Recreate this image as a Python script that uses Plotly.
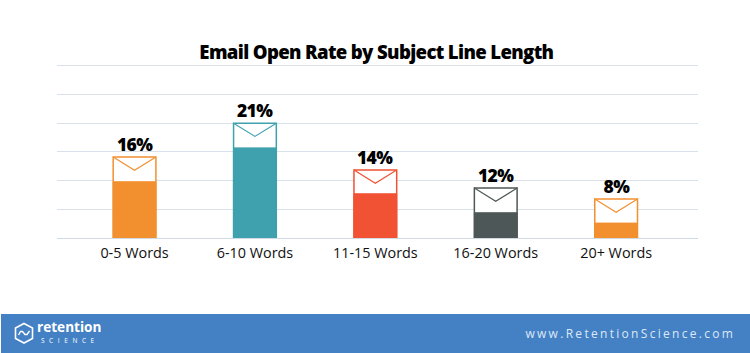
import plotly.graph_objects as go

categories = ["0-5 Words", "6-10 Words", "11-15 Words", "16-20 Words", "20+ Words"]
labels = ["16%", "21%", "14%", "12%", "8%"]
envelope_tops = [14.1, 20.0, 11.85, 8.7, 6.8]
fill_heights = [9.8, 15.7, 7.7, 4.4, 2.6]
colors = ["#F29030", "#3FA1AE", "#F15233", "#4E5757", "#F29030"]
flap_dip = 2.3
bar_width = 0.355
positions = list(range(len(categories)))

W, H = 750, 353
L, R, T, B = 57, 698, 63, 238
px = lambda x: (x - L) / (R - L)
py = lambda y: (B - y) / (B - T)

fig = go.Figure()
fig.add_bar(x=positions, y=envelope_tops, width=bar_width,
            marker=dict(color="white", line=dict(color=colors, width=1.5)),
            hoverinfo="skip", showlegend=False)
fig.add_bar(x=positions, y=fill_heights, width=bar_width,
            marker=dict(color=colors, line=dict(color=colors, width=1)),
            hoverinfo="skip", showlegend=False)
for p, top, c in zip(positions, envelope_tops, colors):
    fig.add_scatter(x=[p - bar_width / 2, p, p + bar_width / 2],
                    y=[top, top - flap_dip, top], mode="lines",
                    line=dict(color=c, width=1.2), hoverinfo="skip", showlegend=False)

shapes = [
    dict(type="rect", xref="paper", yref="paper", x0=px(1), x1=px(750), y0=py(353), y1=py(314),
         fillcolor="#4480C4", line_width=0, layer="below"),
]
hexagon = [(24, 323.5), (32.5, 328), (32.5, 338.5), (24, 343), (15.5, 338.5), (15.5, 328)]
hex_path = "M " + " L ".join(f"{px(a):.5f},{py(b):.5f}" for a, b in hexagon) + " Z"
shapes.append(dict(type="path", xref="paper", yref="paper", path=hex_path,
                   line=dict(color="white", width=1.6), fillcolor="rgba(0,0,0,0)"))
wave = [(18.5, 335), (20.5, 331.5), (22.5, 331.5), (25, 334.5), (27, 334.5), (29.5, 331)]
wave_path = "M " + " L ".join(f"{px(a):.5f},{py(b):.5f}" for a, b in wave)
shapes.append(dict(type="path", xref="paper", yref="paper", path=wave_path,
                   line=dict(color="white", width=1.4)))

def note(text, x, y, size, family="Open Sans", weight=400, color="white", anchor="left"):
    return dict(text=text, xref="paper", yref="paper", x=px(x), y=py(y), showarrow=False,
                xanchor=anchor, yanchor="middle",
                font=dict(family=family, size=size, color=color, weight=weight))

annotations = [
    note("Email Open Rate by Subject Line Length", 376.5, 52, 18.6, weight=800, color="black", anchor="center"),
    note("retention", 69, 326, 13.6, weight=700, anchor="center"),
    note("SCIENCE", 70, 340, 6.5, weight=400, anchor="center"),
    note("www.RetentionScience.com", 630, 333, 12, weight=400, color="#DCE8F5", anchor="center"),
]
for p, top, lab in zip(positions, envelope_tops, labels):
    annotations.append(dict(text=lab, x=p, y=top, xref="x", yref="y", showarrow=False,
                            xanchor="center", yanchor="bottom", yshift=1, borderpad=0, borderwidth=0,
                            font=dict(family="Open Sans", size=17.5, color="black", weight=800)))

fig.update_layout(
    width=W, height=H, autosize=False, barmode="overlay",
    margin=dict(l=L, r=W - R, t=T, b=H - B, pad=0),
    paper_bgcolor="white", plot_bgcolor="white",
    shapes=shapes, annotations=annotations, showlegend=False,
    xaxis=dict(range=[-0.644, 4.68], tickmode="array", tickvals=positions, ticktext=categories,
               showgrid=False, zeroline=False, showline=False, ticks="outside", ticklen=2,
               tickcolor="rgba(0,0,0,0)",
               tickfont=dict(family="Open Sans", size=14.4, color="#111111")),
    yaxis=dict(range=[0, 30.49], tickmode="array", tickvals=[5, 10, 15, 20, 25, 30], showgrid=True,
               gridcolor="#D8E1EA", gridwidth=1.2,
               zeroline=True, zerolinecolor="#D0DBE5", zerolinewidth=1.2,
               showticklabels=False, ticks=""),
)

post = """
document.body.style.margin = '0';
const spacing = {'www.RetentionScience.com': '2.3px', 'SCIENCE': '4.6px',
                 'Email Open Rate by Subject Line Length': '-0.65px',
                 '16%': '-0.6px', '21%': '-0.6px', '14%': '-0.6px', '12%': '-0.6px', '8%': '-0.6px'};
document.querySelectorAll('.annotation-text').forEach(t => {
  const s = spacing[t.textContent];
  if (s) t.style.letterSpacing = s;
});
"""
fig.write_html("out.html", post_script=post, config=dict(displayModeBar=False))
